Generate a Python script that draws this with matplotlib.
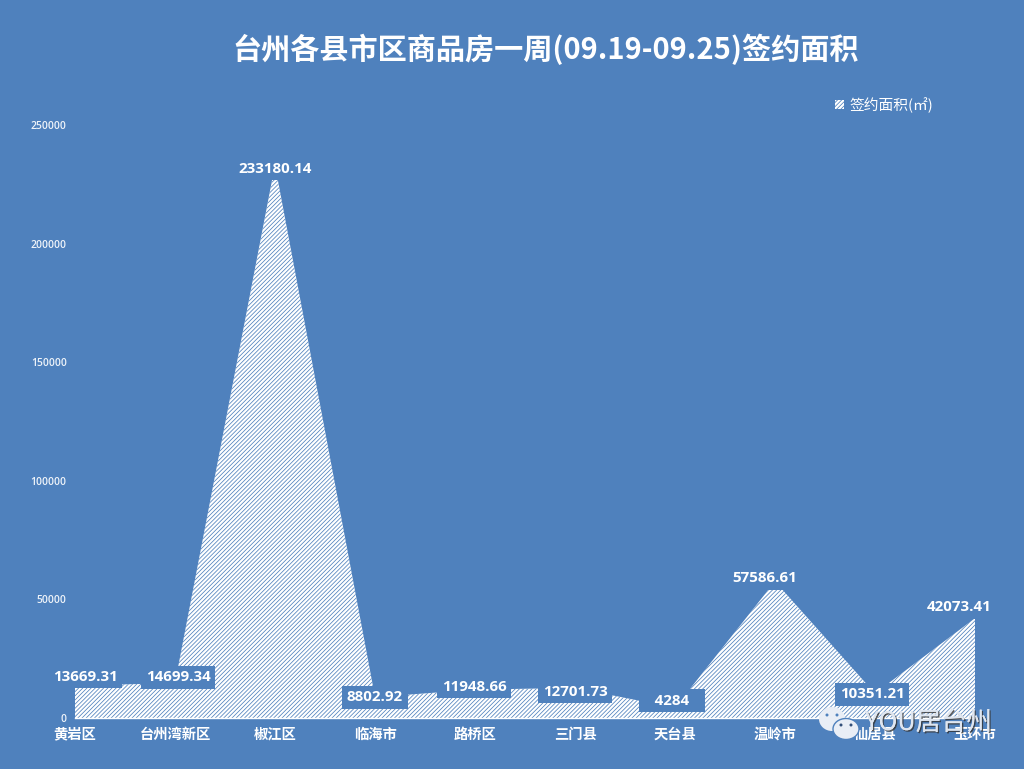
import matplotlib
matplotlib.use('Agg')
import matplotlib.pyplot as plt
import matplotlib.patheffects as pe
from matplotlib.patches import Ellipse
import numpy as np

plt.rcParams['font.family'] = ['Noto Sans CJK SC', 'DejaVu Sans']
plt.rcParams['hatch.linewidth'] = 0.55

# data
districts = ['黄岩区', '台州湾新区', '椒江区', '临海市', '路桥区', '三门县', '天台县', '温岭市', '仙居县', '玉环市']
area = [13669.31, 14699.34, 233180.14, 8802.92, 11948.66, 12701.73, 4284, 57586.61, 10351.21, 42073.41]
area_labels = ['13669.31', '14699.34', '233180.14', '8802.92', '11948.66', '12701.73', '4284', '57586.61', '10351.21', '42073.41']
y_ticks = [0, 50000, 100000, 150000, 200000, 250000]

# label offsets from each point, in px
label_dx = [10, 3, 0, 0, -1, 0, -3, -10, -3, -16]
label_dy = [9, 6, -4, 0, 3, -4, 7, 3, -1, 11]
# the 4284 box is wider than its text in the reference
label_pad = ['', '', '', '', '', '', '   ', '', '', '']

bg = '#4f81bd'
W, H = 1024, 769

fig = plt.figure(figsize=(W / 100, H / 100), dpi=100, facecolor=bg)
ax = fig.add_axes([75 / W, 1 - 718 / H, 900 / W, 593 / H], facecolor=bg)

x = np.arange(len(districts))
ax.fill_between(x, area, 0, facecolor='white', edgecolor=bg, hatch='////////', linewidth=0, zorder=2)

ax.set_xlim(0, 9)
ax.set_ylim(0, 250000)
for s in ['top', 'left', 'right']:
    ax.spines[s].set_visible(False)
ax.spines['bottom'].set_color('white')
ax.spines['bottom'].set_linewidth(1)

ax.set_xticks(x)
ax.set_xticklabels(districts, fontsize=10.3, color='white', fontweight='bold')
ax.set_yticks(y_ticks)
ax.set_yticklabels([str(v) for v in y_ticks], fontsize=7.5, color='#eef3f9', fontweight='semibold', family='Open Sans')
ax.tick_params(axis='both', length=0)
ax.tick_params(axis='x', pad=7)
ax.tick_params(axis='y', pad=6)

for i in range(len(area)):
    ax.annotate(label_pad[i] + area_labels[i] + label_pad[i], (x[i], area[i]),
                xytext=(label_dx[i] * 0.72, label_dy[i] * 0.72), textcoords='offset points',
                ha='center', va='center', fontsize=10.9, color='white', fontweight='bold',
                family='Open Sans', annotation_clip=False, zorder=4,
                bbox=dict(boxstyle='square,pad=0.3', facecolor=bg, edgecolor='none'))

fig.text(546 / W, 1 - 49 / H, '台州各县市区商品房一周(09.19-09.25)签约面积',
         fontsize=21, color='white', fontweight='bold', ha='center', va='center')

# legend
fig.patches.append(plt.Rectangle((835 / W, 1 - 109 / H), 9 / W, 9 / H, transform=fig.transFigure,
                                 facecolor='white', edgecolor=bg, hatch='////////', linewidth=0))
fig.text(849 / W, 1 - 105 / H, '签约面积(㎡)', fontsize=10.6, color='white', fontweight='medium', ha='left', va='center')

# watermark
wm_ax = fig.add_axes([0, 0, 1, 1], facecolor='none')
wm_ax.set_xlim(0, W)
wm_ax.set_ylim(H, 0)
wm_ax.axis('off')
wm_ax.add_patch(Ellipse((832, 719), 26, 24, facecolor='#e9eef6', edgecolor='none'))
wm_ax.add_patch(Ellipse((846, 729), 26, 21, facecolor='#e9eef6', edgecolor=bg, linewidth=1))
for ex, ey, c in [(827, 715, bg), (837, 715, bg), (841, 725, '#33507a'), (851, 725, '#33507a')]:
    wm_ax.add_patch(Ellipse((ex, ey), 3, 3, facecolor=c, edgecolor='none'))
wm_ax.text(865, 723, 'YOU居台州', fontsize=18.3, color='#dfe6f0', ha='left', va='center', fontweight='light',
           path_effects=[pe.withSimplePatchShadow(offset=(1, -1), shadow_rgbFace='#333333', alpha=0.8), pe.Normal()])

fig.savefig('out.png', dpi=100, facecolor=bg)
